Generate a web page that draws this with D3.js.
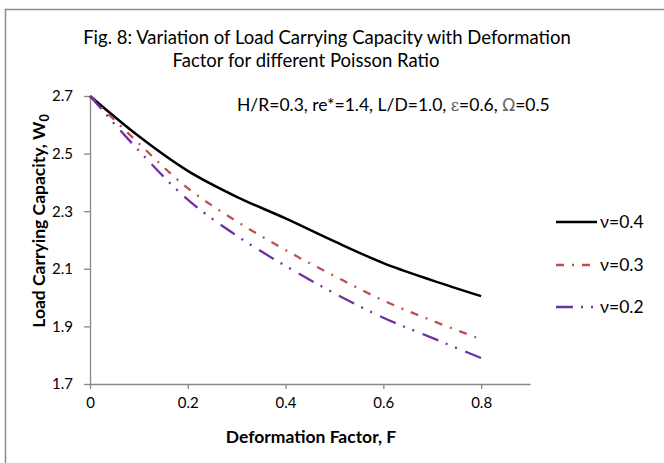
<!DOCTYPE html>
<html>
<head>
<meta charset="utf-8">
<script src="https://cdn.jsdelivr.net/npm/d3@7"></script>
<style>
  html, body { margin: 0; padding: 0; background: #fff; }
  svg { display: block; }
  text { font-family: Lato, "Open Sans", sans-serif; fill: #000; }
</style>
</head>
<body>
<svg id="chart" width="664" height="463"></svg>
<script>
// Deformation factor F (x values)
const deformation = [0, 0.1, 0.2, 0.3, 0.4, 0.5, 0.6, 0.7, 0.8];

// Load carrying capacity W0 for each Poisson ratio
const nu04 = [2.70, 2.56, 2.44, 2.35, 2.275, 2.195, 2.12, 2.06, 2.005];
const nu03 = [2.70, 2.535, 2.38, 2.265, 2.165, 2.075, 1.99, 1.92, 1.855];
const nu02 = [2.70, 2.51, 2.34, 2.215, 2.11, 2.015, 1.93, 1.86, 1.79];

const seriesNames = ["ν=0.4", "ν=0.3", "ν=0.2"];
const seriesColors = ["#000000", "#C0504D", "#7030A0"];
const seriesDash = [null, "8,8,2,8", "17,8,2,8,2,9"];

const xTicks = [0, 0.2, 0.4, 0.6, 0.8];
const yTicks = [1.7, 1.9, 2.1, 2.3, 2.5, 2.7];

const svg = d3.select("#chart");

// outer chart frame
svg.append("rect")
  .attr("x", 5.5).attr("y", 9.5)
  .attr("width", 700).attr("height", 500)
  .attr("fill", "#fff")
  .attr("stroke", "#8c8c8c")
  .attr("stroke-width", 1.5);

const x = d3.scaleLinear().domain([0, 0.9]).range([90, 530]);
const y = d3.scaleLinear().domain([1.7, 2.7]).range([384, 96]);

const axisColor = "#888888";

// x axis
const gx = svg.append("g")
  .attr("transform", `translate(0,${y(1.7)})`)
  .call(d3.axisBottom(x).tickValues(xTicks).tickSize(5).tickSizeOuter(0)
    .tickFormat(d => d === 0 ? "0" : d3.format(".1f")(d)));
gx.select(".domain").attr("stroke", axisColor).attr("stroke-width", 1.3);
gx.selectAll(".tick line").attr("stroke", axisColor).attr("stroke-width", 1.3);
gx.selectAll(".tick text")
  .attr("y", 24).attr("dy", 0)
  .style("font-family", "Lato, sans-serif")
  .style("font-size", "15px").attr("fill", "#000");

// y axis
const gy = svg.append("g")
  .attr("transform", `translate(${x(0)},0)`)
  .call(d3.axisLeft(y).tickValues(yTicks).tickSize(6).tickSizeOuter(0)
    .tickFormat(d3.format(".1f")));
gy.select(".domain").attr("stroke", axisColor).attr("stroke-width", 1.3);
gy.selectAll(".tick line").attr("stroke", axisColor).attr("stroke-width", 1.3);
gy.selectAll(".tick text")
  .attr("x", -17)
  .style("font-family", "Lato, sans-serif")
  .style("font-size", "15px").attr("fill", "#000");

// series lines
const line = d3.line()
  .x((d, i) => x(deformation[i]))
  .y(d => y(d))
  .curve(d3.curveCatmullRom.alpha(0.5));

[nu04, nu03, nu02].forEach((vals, i) => {
  svg.append("path")
    .datum(vals)
    .attr("d", line)
    .attr("fill", "none")
    .attr("stroke", seriesColors[i])
    .attr("stroke-width", i === 0 ? 2.5 : 2.3)
    .attr("stroke-dasharray", seriesDash[i]);
});

// title
const title = svg.append("text")
  .attr("text-anchor", "middle")
  .style("font-size", "18.5px");
title.append("tspan").attr("x", 327).attr("y", 44)
  .text("Fig. 8: Variation of Load Carrying Capacity with Deformation");
title.append("tspan").attr("x", 306).attr("y", 67)
  .text("Factor for different Poisson Ratio");

// parameter annotation
const note = svg.append("text")
  .attr("x", 237).attr("y", 111)
  .style("font-size", "17.5px");
note.append("tspan").text("H/R=0.3, re*=1.4, L/D=1.0, ");
note.append("tspan").style("font-family", "'DejaVu Serif', serif")
  .attr("fill", "#555").style("font-size", "16px").text("ε");
note.append("tspan").text("=0.6, ");
note.append("tspan").style("font-family", "'DejaVu Sans', sans-serif")
  .attr("fill", "#666").style("font-size", "17px").text("Ω");
note.append("tspan").text("=0.5");

// axis titles
svg.append("text")
  .attr("x", 311).attr("y", 443)
  .attr("text-anchor", "middle")
  .style("font-size", "17.5px").style("font-weight", "bold")
  .text("Deformation Factor, F");

const yt = svg.append("text")
  .attr("transform", "translate(45,221) rotate(-90)")
  .attr("text-anchor", "middle")
  .style("font-size", "17.5px").style("font-weight", "bold");
yt.append("tspan").text("Load Carrying Capacity, W");
yt.append("tspan").attr("dy", 4).style("font-size", "12.5px").text("0");

// legend
const legendY = [222, 265, 307];
seriesNames.forEach((name, i) => {
  svg.append("line")
    .attr("x1", 556).attr("x2", 597)
    .attr("y1", legendY[i]).attr("y2", legendY[i])
    .attr("stroke", seriesColors[i])
    .attr("stroke-width", i === 0 ? 2.5 : 2.3)
    .attr("stroke-dasharray", seriesDash[i]);
  svg.append("text")
    .attr("x", 600).attr("y", legendY[i] + 6)
    .style("font-size", "17.5px")
    .text(name);
});
</script>
</body>
</html>
